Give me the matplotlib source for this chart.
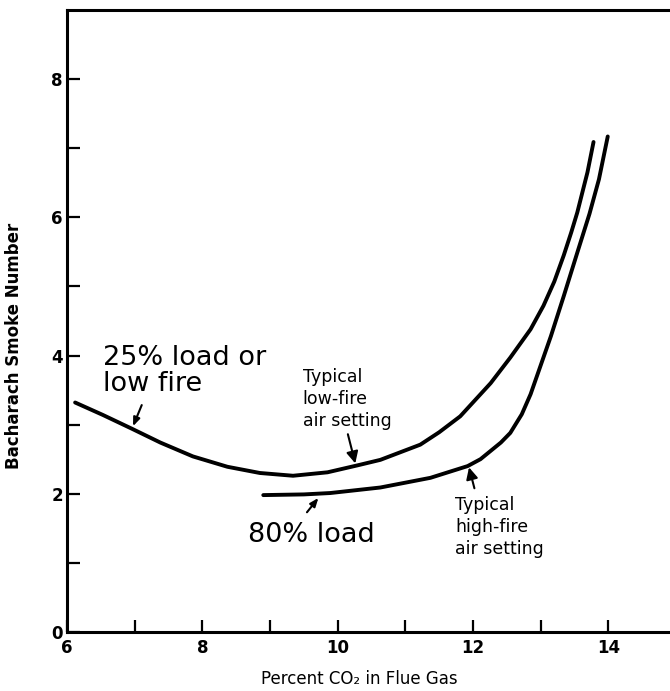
import matplotlib.pyplot as plt
from matplotlib.ticker import FixedLocator

# 25% load / low fire curve (percent CO2, smoke number)
low_x = [6.12, 6.53, 6.96, 7.38, 7.86, 8.37, 8.85, 9.34, 9.85, 10.29,
         10.63, 11.22, 11.50, 11.81, 12.26, 12.55, 12.85, 13.04, 13.20,
         13.34, 13.45, 13.54, 13.62, 13.69, 13.78]
low_y = [3.32, 3.14, 2.94, 2.74, 2.54, 2.39, 2.30, 2.26, 2.31, 2.41,
         2.49, 2.71, 2.89, 3.12, 3.60, 3.97, 4.38, 4.72, 5.07,
         5.45, 5.78, 6.07, 6.38, 6.65, 7.09]

# 80% load curve
high_x = [8.90, 9.50, 9.89, 10.63, 11.37, 11.92, 12.11, 12.41, 12.55,
          12.72, 12.85, 12.95, 13.15, 13.34, 13.55, 13.72, 13.86, 13.99]
high_y = [1.98, 1.99, 2.01, 2.09, 2.23, 2.40, 2.50, 2.74, 2.88,
          3.15, 3.44, 3.72, 4.28, 4.86, 5.52, 6.05, 6.55, 7.17]

x_major = [6, 8, 10, 12, 14]
x_minor = [7, 9, 11, 13]
y_major = [0, 2, 4, 6, 8]
y_minor = [1, 3, 5, 7]

fig = plt.figure(figsize=(6.7, 6.91), dpi=100)
ax = fig.add_axes([0.100, 0.0855, 0.899, 0.9000])

for xs, ys in [(low_x, low_y), (high_x, high_y)]:
    ax.plot(xs, ys, color='black', lw=2.8, solid_capstyle='round',
            solid_joinstyle='round')

ax.set_xlim(6, 14.9)
ax.set_ylim(0, 9)
ax.xaxis.set_major_locator(FixedLocator(x_major))
ax.xaxis.set_minor_locator(FixedLocator(x_minor))
ax.yaxis.set_major_locator(FixedLocator(y_major))
ax.yaxis.set_minor_locator(FixedLocator(y_minor))
ax.tick_params(which='both', direction='in', length=9, width=1.6)
ax.tick_params(axis='y', which='major', pad=3, labelsize=12)
ax.tick_params(axis='x', which='major', pad=5, labelsize=12)
for lbl in ax.get_xticklabels() + ax.get_yticklabels():
    lbl.set_fontweight('bold')

for side in ['left', 'bottom', 'top']:
    ax.spines[side].set_linewidth(2.2)
ax.spines['right'].set_visible(False)

ax.set_xlabel('Percent CO₂ in Flue Gas', fontsize=12)
ax.set_ylabel('Bacharach Smoke Number', fontsize=12, fontweight='bold')
ax.xaxis.set_label_coords(0.485, -0.062)
ax.yaxis.set_label_coords(-0.073, 0.46)

arrow_small = dict(arrowstyle='-|>,head_length=0.5,head_width=0.2',
                   color='black', lw=1.5)
arrow_mark = dict(arrowstyle='-|>,head_length=0.7,head_width=0.35',
                  color='black', lw=1.5)

# curve labels
ax.text(6.53, 3.48, '25% load or\nlow fire', fontsize=19.5, va='baseline',
        linespacing=1.0)
ax.annotate('', xy=(6.96, 2.94), xytext=(7.12, 3.32), arrowprops=arrow_small)

ax.text(8.68, 1.30, '80% load', fontsize=19.5, va='baseline')
ax.annotate('', xy=(9.74, 1.97), xytext=(9.52, 1.70), arrowprops=arrow_small)

ax.text(9.48, 3.82, 'Typical\nlow-fire\nair setting', fontsize=12.5,
        va='top', linespacing=1.27)
ax.annotate('', xy=(10.27, 2.40), xytext=(10.14, 2.90), arrowprops=arrow_mark)

ax.text(11.74, 1.96, 'Typical\nhigh-fire\nair setting', fontsize=12.5,
        va='top', linespacing=1.27)
ax.annotate('', xy=(11.93, 2.42), xytext=(12.03, 2.04), arrowprops=arrow_mark)

fig.savefig('out.png', dpi=100)
